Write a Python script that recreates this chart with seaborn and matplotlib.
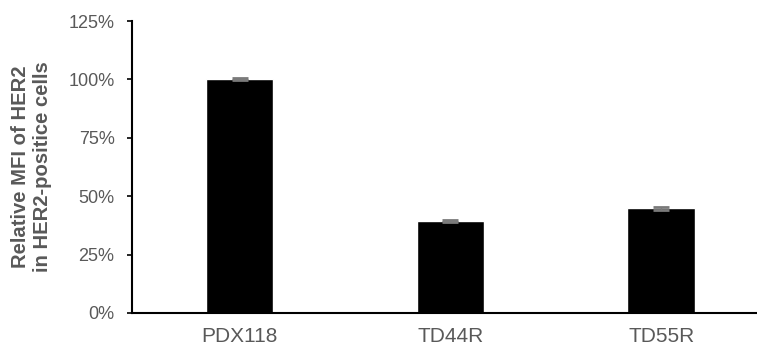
import matplotlib
matplotlib.use("Agg")
import matplotlib.pyplot as plt
import seaborn as sns
import pandas as pd
from matplotlib.ticker import PercentFormatter

# Relative HER2 MFI per model (fraction of PDX118) and its error
models = ["PDX118", "TD44R", "TD55R"]
mfi = [1.00, 0.395, 0.448]
err = [0.004, 0.005, 0.005]
yticks = [0, 0.25, 0.5, 0.75, 1.0, 1.25]

df = pd.DataFrame({"model": models, "mfi": mfi, "err": err})

sns.set_theme(style="white")
plt.rcParams["font.family"] = ["Liberation Sans", "DejaVu Sans"]

fig = plt.figure(figsize=(7.57, 3.49), dpi=100)
ax = fig.add_axes([0.1744, 0.1032, 0.8243, 0.8366])

sns.barplot(data=df, x="model", y="mfi", color="black", width=0.32,
            errorbar=None, ax=ax, saturation=1)
ax.errorbar(range(len(models)), df["mfi"], yerr=df["err"], fmt="none",
            ecolor="#7a7a7a", elinewidth=1.0, capsize=5.5, capthick=2.0)

ax.set_xlim(-0.51, 2.45)
ax.set_ylim(0, 1.25)
ax.set_yticks(yticks)
ax.yaxis.set_major_formatter(PercentFormatter(1.0, decimals=0))

grey = "#595959"
ax.tick_params(axis="y", labelsize=13, labelcolor=grey, color="black",
               length=3.6, width=1.2, direction="out", left=True, pad=9)
ax.tick_params(axis="x", labelsize=15, labelcolor=grey, length=0, pad=10)
ax.set_xlabel("")
ax.set_ylabel("Relative MFI of HER2\nin HER2-positice cells", fontsize=14.6,
              fontweight="bold", color=grey, labelpad=12, linespacing=1.15)

for side in ["top", "right"]:
    ax.spines[side].set_visible(False)
for side in ["left", "bottom"]:
    ax.spines[side].set_color("black")
    ax.spines[side].set_linewidth(1.5)

fig.savefig("out.png", dpi=100)
